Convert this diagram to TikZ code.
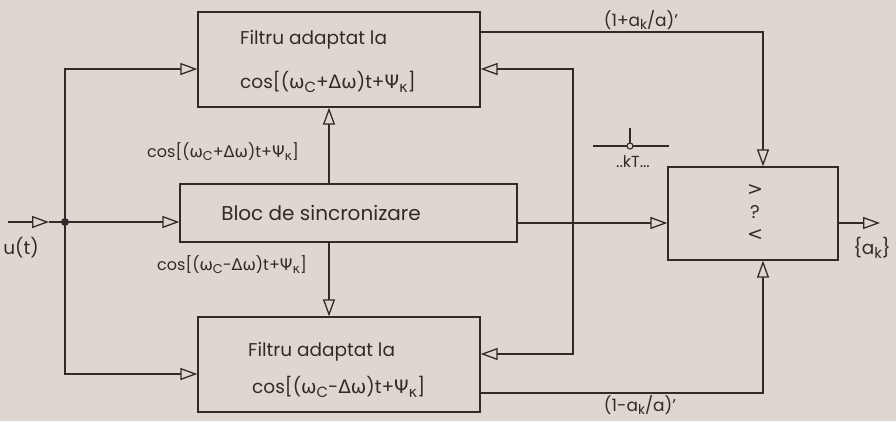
\documentclass[tikz,border=0pt]{standalone}
\usepackage{fontspec}
\setmainfont{Poppins}
\newfontfamily\grk{DejaVu Sans}
\usetikzlibrary{arrows.meta}
\definecolor{paper}{RGB}{222,215,207}
\definecolor{ink}{RGB}{48,43,40}
\newcommand{\Gom}{{\grk ω}}
\newcommand{\GDel}{{\grk Δ}}
\newcommand{\GPsi}{{\grk Ψ}}
\newcommand{\Gkap}{{\grk κ}}
\newcommand{\Sub}[1]{\raisebox{-0.35ex}{\fontsize{0.8em}{1em}\selectfont #1}}
\tikzset{
  blk/.style={draw=ink, line width=1.3pt, fill=paper, inner sep=0pt},
  wire/.style={draw=ink, line width=1.3pt},
  tip/.style={wire, -{Triangle[open, length=17pt, width=12pt, line width=1.3pt]}},
  tipboth/.style={wire, {Triangle[open, length=17pt, width=12pt, line width=1.3pt]}-{Triangle[open, length=17pt, width=12pt, line width=1.3pt]}},
  big/.style={text=ink, inner sep=0pt, font=\fontsize{18.5}{22}\selectfont},
  small/.style={text=ink, inner sep=0pt, font=\fontsize{16}{19}\selectfont},
  cmpsym/.style={text=ink, inner sep=0pt, font=\grk\fontsize{19}{22}\selectfont},
}
\begin{document}
\begin{tikzpicture}[x=1pt, y=-1pt]
\fill[paper] (0,0) rectangle (896,421);
\useasboundingbox (0,0) rectangle (896,421);
% blocks
\node[blk, minimum width=282pt, minimum height=95pt] (topf) at (339,59.5) {};
\node[blk, minimum width=337pt, minimum height=58pt] (sync) at (348.5,213) {};
\node[blk, minimum width=282pt, minimum height=95pt] (botf) at (339,364.5) {};
\node[blk, minimum width=170pt, minimum height=93pt] (dec) at (753,213.5) {};
% block texts
\node[big, anchor=west] (t1) at (240,40) {Filtru adaptat la};
\node[big, anchor=west] (t2) at (240,82) {cos[(\Gom\Sub{C}+\GDel\Gom)t+\GPsi\Sub{\Gkap}]};
\node[big, anchor=west] (b1) at (248,352) {Filtru adaptat la};
\node[big, anchor=west] (b2) at (252,387) {cos[(\Gom\Sub{C}-\GDel\Gom)t+\GPsi\Sub{\Gkap}]};
\node[big, font=\fontsize{20}{24}\selectfont] (s1) at (321,213) {Bloc de sincronizare};
\node[cmpsym] (d1) at (755,190) {>};
\node[big] (d2) at (755,212) {?};
\node[cmpsym] (d3) at (755,235) {<};
% labels
\node[small, anchor=west] (l1) at (147,152) {cos[(\Gom\Sub{C}+\GDel\Gom)t+\GPsi\Sub{\Gkap}]};
\node[small, anchor=west] (l2) at (157,265) {cos[(\Gom\Sub{C}-\GDel\Gom)t+\GPsi\Sub{\Gkap}]};
\node[big] (ut) at (21,248) {u(t)};
\node[big] (ak) at (872,248) {\{a\Sub{k}\}};
\node[big, font=\fontsize{17}{20}\selectfont] (p1) at (641,20) {(1+a\Sub{k}/a)'};
\node[big, font=\fontsize{17}{20}\selectfont] (p2) at (640,405) {(1-a\Sub{k}/a)'};
\node[small] (kt) at (633,162) {..kT...};
% coordinates
\coordinate (in) at (8,222);
\coordinate (a1) at (49,222);
\coordinate (j) at (65,222);
\coordinate (fbx) at (573,200);
\coordinate (out) at (880,223);
% input
\draw[tip] (in) -- (a1);
\draw[wire] (a1) -- (j);
\fill[ink] (j) circle (4);
\draw[tip] (j) -- (j -| sync.west);
\draw[tip] (j) |- ([yshift=-9.5pt]topf.west);
\draw[tip] (j) |- ([yshift=-9.5pt]botf.west);
% sync to filters
\draw[tip] ([xshift=-19.5pt]sync.north) -- ([xshift=-19.5pt]sync.north |- topf.south);
\draw[tip] ([xshift=-19.5pt]sync.south) -- ([xshift=-19.5pt]sync.south |- botf.north);
% feedback line
\draw[tipboth] ([yshift=-9.5pt]topf.east) -| (fbx) |- ([yshift=10.5pt]botf.east);
% sync to decision
\draw[tip] ([yshift=-10pt]sync.east) -- ([yshift=-10pt]sync.east -| dec.west);
% filter outputs
\draw[tip] ([yshift=27.5pt]topf.east) -| ([xshift=10pt]dec.north);
\draw[tip] ([yshift=-28.5pt]botf.east) -| ([xshift=10pt]dec.south);
% output
\draw[tip] ([yshift=-9.5pt]dec.east) -- (out);
% sampler
\coordinate (sa) at (593,146);
\coordinate (sb) at (669,146);
\coordinate (sc) at (630,146);
\coordinate (sd) at (630,128);
\draw[wire, line width=1.1pt] (sa) -- (sb);
\draw[wire, line width=1.1pt] (sd) -- ([yshift=3pt]sc);
\draw[wire, line width=1.1pt, fill=paper] (sc) circle (3);
\end{tikzpicture}
\end{document}
